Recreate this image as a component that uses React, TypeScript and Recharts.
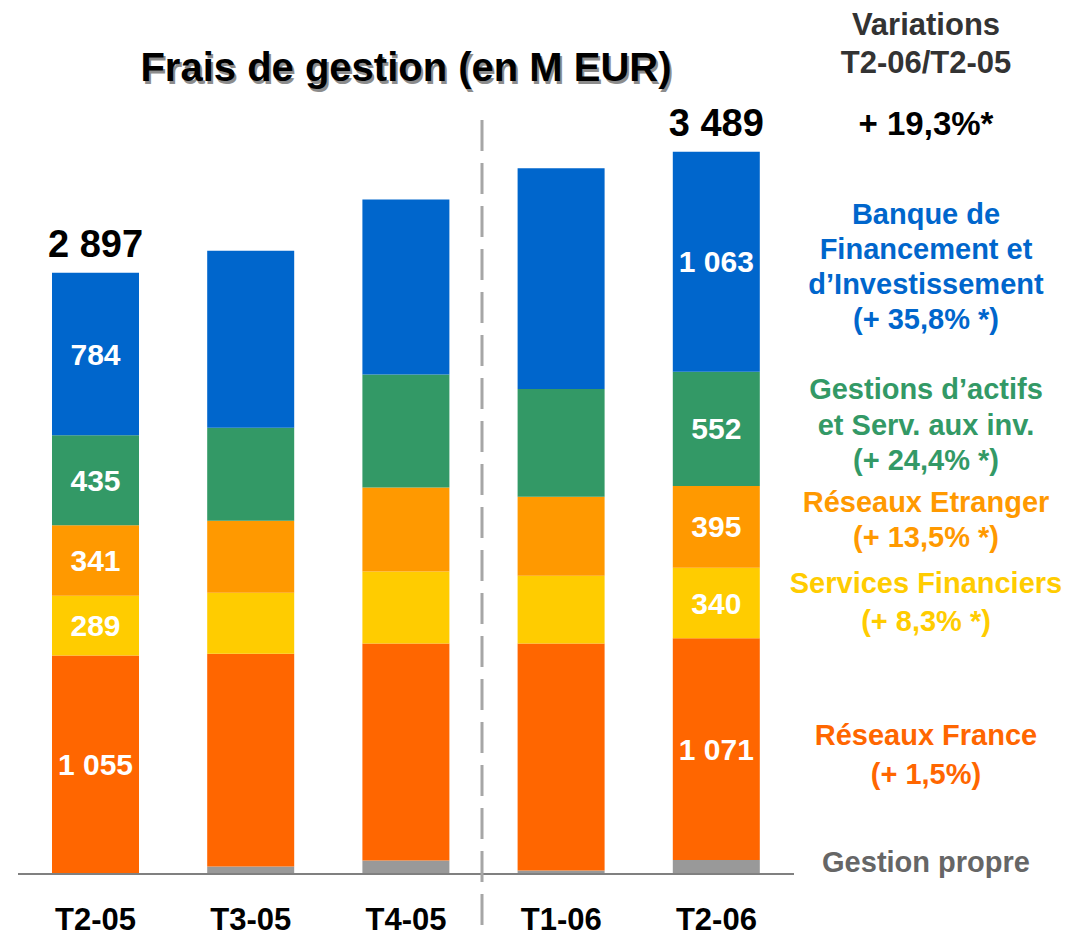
import React from 'react';
import { BarChart, Bar, XAxis, YAxis, LabelList } from 'recharts';

// quarters
const categories = ['T2-05', 'T3-05', 'T4-05', 'T1-06', 'T2-06'];

// frais de gestion par métier (M EUR), bottom to top of the stack
const gestionPropre = [0, 36, 65, 17, 68];
const reseauxFrance = [1055, 1028, 1048, 1096, 1071];
const servicesFinanciers = [289, 295, 348, 328, 340];
const reseauxEtranger = [341, 348, 406, 381, 395];
const gestionsActifs = [435, 449, 546, 521, 552];
const banqueFinancement = [784, 855, 845, 1067, 1063];

// totals printed above the bars (only first and last quarter)
const totalLabels = ['2 897', '', '', '', '3 489'];
// which bars carry the segment values
const labelledBars = [0, 4];

const data = categories.map((name, i) => ({
    name,
    gestionPropre: gestionPropre[i],
    reseauxFrance: reseauxFrance[i],
    servicesFinanciers: servicesFinanciers[i],
    reseauxEtranger: reseauxEtranger[i],
    gestionsActifs: gestionsActifs[i],
    banqueFinancement: banqueFinancement[i],
}));

const FONT = '"Liberation Sans", Arial, sans-serif';

const fmt = (v: number) =>
    v >= 1000 ? `${Math.floor(v / 1000)} ${String(v % 1000).padStart(3, '0')}` : String(v);

// white value in the middle of a segment
const segmentLabel = (values: number[]) => (props: any) => {
    const { x, y, width, height, index } = props;
    if (!labelledBars.includes(index)) return null;
    return (
        <text
            x={Number(x) + Number(width) / 2}
            y={Number(y) + Number(height) / 2}
            textAnchor="middle"
            dominantBaseline="central"
            fill="#ffffff"
            fontSize={30}
            fontWeight="bold"
            fontFamily={FONT}
        >
            {fmt(values[index])}
        </text>
    );
};

const TotalLabel = (props: any) => {
    const { x, y, width, index } = props;
    const txt = totalLabels[index];
    if (!txt) return null;
    return (
        <text
            x={Number(x) + Number(width) / 2}
            y={Number(y) - 16}
            textAnchor="middle"
            fill="#000000"
            fontSize={38}
            fontWeight="bold"
            fontFamily={FONT}
        >
            {txt}
        </text>
    );
};

const CategoryTick = ({ x, y, payload }: any) => (
    <text
        x={x}
        y={y + 56}
        textAnchor="middle"
        fill="#000000"
        fontSize={31}
        fontWeight="bold"
        fontFamily={FONT}
    >
        {payload.value}
    </text>
);

// right-hand commentary, one block per line group
const sideBlocks = [
    { lines: ['Variations', 'T2-06/T2-05'], color: '#333333', top: 6, lh: 38, size: 31 },
    { lines: ['+ 19,3%*'], color: '#000000', top: 105, lh: 38, size: 33 },
    { lines: ['Banque de', 'Financement et', 'd\u2019Investissement', '(+ 35,8% *)'], color: '#0066CC', top: 197, lh: 35, size: 29 },
    { lines: ['Gestions d\u2019actifs', 'et Serv. aux inv.', '(+ 24,4% *)'], color: '#339966', top: 372, lh: 35.5, size: 29 },
    { lines: ['R\u00e9seaux Etranger', '(+ 13,5% *)'], color: '#FF9900', top: 485, lh: 35, size: 29 },
    { lines: ['Services Financiers', '(+ 8,3% *)'], color: '#FFCC00', top: 564, lh: 38, size: 29 },
    { lines: ['R\u00e9seaux France', '(+ 1,5%)'], color: '#FF6600', top: 716, lh: 39, size: 29 },
    { lines: ['Gestion propre'], color: '#666666', top: 845, lh: 35, size: 29 },
];

const App = () => {
    return (
        <div style={{ position: 'absolute', left: 0, top: 0, width: 1066, height: 936, background: '#fff', fontFamily: FONT }}>
            <BarChart
                width={1066}
                height={936}
                data={data}
                margin={{ top: 46, right: 272, bottom: 0, left: 18 }}
                barSize={87}
                style={{ position: 'absolute', left: 0, top: 0 }}
            >
                <XAxis
                    dataKey="name"
                    height={62}
                    axisLine={{ stroke: '#808080', strokeWidth: 2 }}
                    tickLine={false}
                    tickSize={0}
                    tickMargin={0}
                    tick={<CategoryTick />}
                    interval={0}
                />
                <YAxis hide domain={[0, 4000]} />
                <Bar dataKey="gestionPropre" stackId="a" fill="#999999" isAnimationActive={false} />
                <Bar dataKey="reseauxFrance" stackId="a" fill="#FF6600" isAnimationActive={false}>
                    <LabelList content={segmentLabel(reseauxFrance)} />
                </Bar>
                <Bar dataKey="servicesFinanciers" stackId="a" fill="#FFCC00" isAnimationActive={false}>
                    <LabelList content={segmentLabel(servicesFinanciers)} />
                </Bar>
                <Bar dataKey="reseauxEtranger" stackId="a" fill="#FF9900" isAnimationActive={false}>
                    <LabelList content={segmentLabel(reseauxEtranger)} />
                </Bar>
                <Bar dataKey="gestionsActifs" stackId="a" fill="#339966" isAnimationActive={false}>
                    <LabelList content={segmentLabel(gestionsActifs)} />
                </Bar>
                <Bar dataKey="banqueFinancement" stackId="a" fill="#0066CC" isAnimationActive={false}>
                    <LabelList content={segmentLabel(banqueFinancement)} />
                    <LabelList content={<TotalLabel />} />
                </Bar>
            </BarChart>

            {/* separator between 2005 and 2006 */}
            <svg width={1066} height={936} style={{ position: 'absolute', left: 0, top: 0, pointerEvents: 'none' }}>
                <line x1={482} y1={120} x2={482} y2={936} stroke="#A6A6A6" strokeWidth={3} strokeDasharray="31 12" />
            </svg>

            <div style={{
                position: 'absolute', left: 0, width: 812, top: 43, textAlign: 'center',
                fontSize: 40, fontWeight: 'bold', color: '#000', lineHeight: '48px',
                textShadow: '2px 3px 0 #8c8c8c', whiteSpace: 'nowrap'
            }}>
                Frais de gestion (en M EUR)
            </div>

            {sideBlocks.map((b, i) => (
                <div key={i} style={{
                    position: 'absolute', left: 786, width: 280, top: b.top, textAlign: 'center',
                    fontSize: b.size, fontWeight: 'bold', color: b.color, lineHeight: `${b.lh}px`,
                    whiteSpace: 'nowrap'
                }}>
                    {b.lines.map((l, j) => <div key={j}>{l}</div>)}
                </div>
            ))}
        </div>
    );
};

export default App;
